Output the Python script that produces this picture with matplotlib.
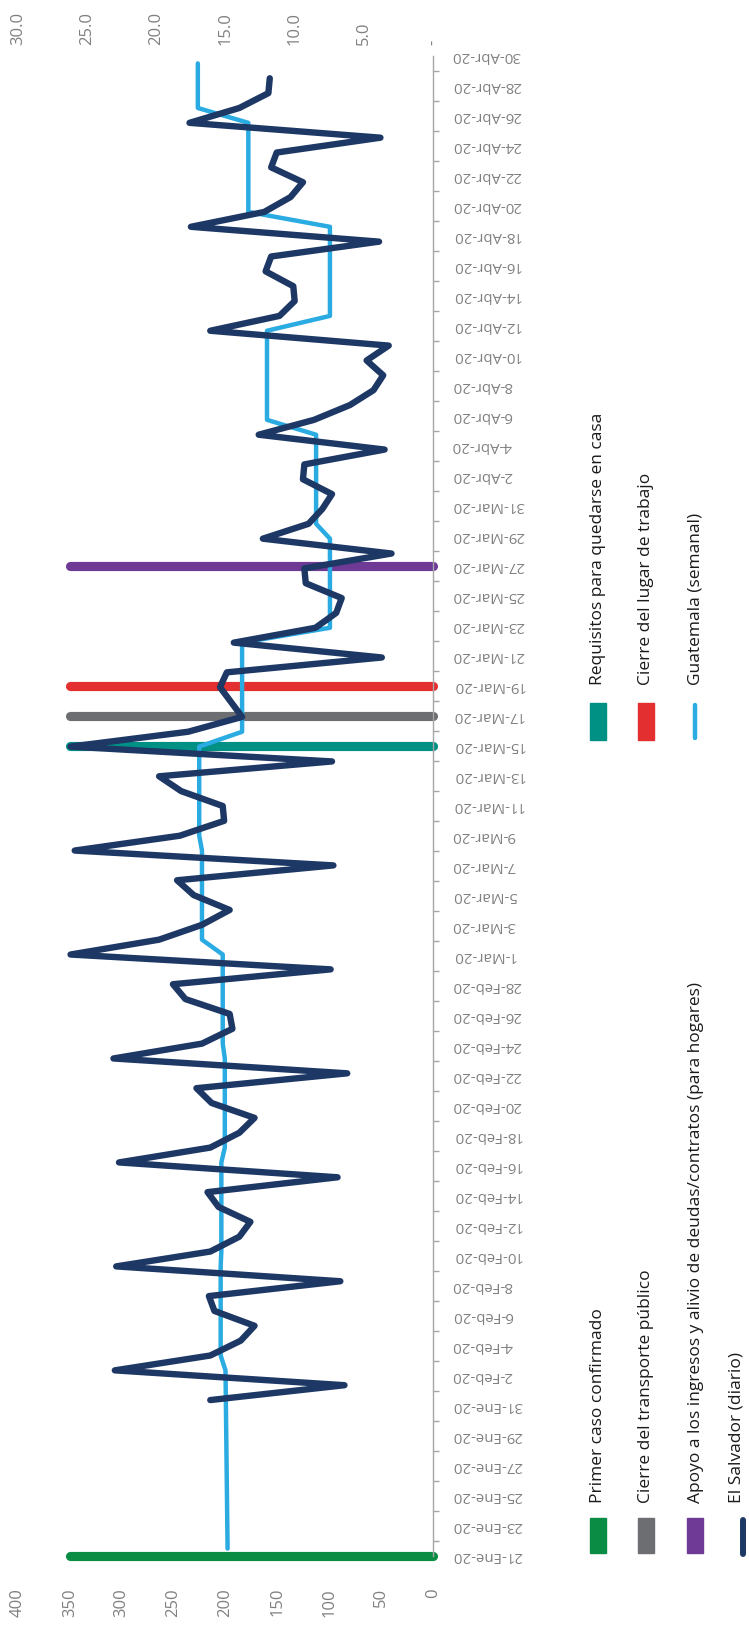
import matplotlib
matplotlib.use("Agg")
import matplotlib.pyplot as plt
import pandas as pd
from matplotlib.lines import Line2D
from matplotlib.patches import Rectangle

plt.rcParams['font.family'] = ['Open Sans', 'DejaVu Sans']

# ---------------- data ----------------
meses = {1: 'Ene', 2: 'Feb', 3: 'Mar', 4: 'Abr'}
fechas = pd.date_range('2020-01-21', '2020-04-30', freq='D')
etiquetas = [f"{f.day}-{meses[f.month]}-20" for f in fechas]

# El Salvador (diario), 31-Ene-20 .. 30-Abr-20
el_salvador_inicio = '2020-01-31'
el_salvador = [16.1, 6.4, 23.0, 16.1, 13.9, 12.9, 15.8, 16.2, 6.7, 22.9,
               16.1, 14.0, 13.2, 15.5, 16.3, 6.9, 22.7, 16.1, 14.0, 12.9,
               16.0, 17.1, 6.2, 23.1, 16.7, 14.5, 14.7, 17.9, 18.8, 7.4,
               26.2, 19.8, 16.7, 14.7, 17.3, 18.5, 7.2, 25.9, 18.3, 15.1,
               15.2, 18.2, 19.8, 7.3, 26.2, 17.7, 13.8, 14.6, 15.4, 14.9,
               3.7, 14.4, 8.5, 7.0, 6.6, 9.2, 9.3, 3.0, 12.3, 9.0,
               8.0, 7.3, 9.4, 9.3, 3.5, 12.6, 8.6, 6.0, 4.3, 3.6,
               4.8, 3.2, 16.1, 11.1, 10.0, 10.1, 12.1, 11.7, 3.9, 17.5,
               12.2, 10.3, 9.4, 11.7, 11.3, 3.8, 17.6, 14.0, 11.9, 11.8]

# Guatemala (semanal): value on 21-Ene-20, then from 2-Feb-20 .. 30-Abr-20
guatemala_primero = 14.85
guatemala_inicio = '2020-02-02'
guatemala = [15.0,
             15.35, 15.35, 15.35, 15.35, 15.35, 15.35, 15.35,
             15.3, 15.3, 15.3, 15.3, 15.3, 15.3, 15.3,
             15.05, 15.05, 15.05, 15.05, 15.05, 15.05, 15.05,
             15.2, 15.2, 15.2, 15.2, 15.2, 15.2, 15.2,
             16.7, 16.7, 16.7, 16.7, 16.7, 16.7, 16.7,
             16.9, 16.9, 16.9, 16.9, 16.9, 16.9, 16.9,
             13.8, 13.8, 13.8, 13.8, 13.8, 13.8, 13.8,
             7.45, 7.45, 7.45, 7.45, 7.45, 7.45, 7.45,
             8.45, 8.45, 8.45, 8.45, 8.45, 8.45, 8.45,
             12.0, 12.0, 12.0, 12.0, 12.0, 12.0, 12.0,
             7.45, 7.45, 7.45, 7.45, 7.45, 7.45, 7.45,
             13.35, 13.35, 13.35, 13.35, 13.35, 13.35, 13.35,
             17.0, 17.0, 17.0, 17.0]

eventos = ['Primer caso confirmado', 'Requisitos para quedarse en casa',
           'Cierre del transporte público', 'Cierre del lugar de trabajo',
           'Apoyo a los ingresos y alivio de deudas/contratos (para hogares)']
eventos_fechas = ['2020-01-21', '2020-03-15', '2020-03-17', '2020-03-19', '2020-03-27']
eventos_valor = [350, 350, 350, 350, 350]
eventos_colores = ['#0B8C45', '#009084', '#6D6E71', '#E32F2F', '#6E3A95']

eje_primario = [0, 50, 100, 150, 200, 250, 300, 350, 400]
eje_secundario = [0, 5, 10, 15, 20, 25, 30]

C_SV = '#1E3865'
C_GT = '#2AABE2'
GRIS = '#808080'

# ---------------- figure ----------------
W, H = 749, 1629
fig = plt.figure(figsize=(W / 100, H / 100), dpi=100)


def fxp(px):
    return px / W


def fyp(py):
    return (H - py) / H


rect = [18 / W, (H - 1556) / H, 415 / W, 1500 / H]

# primary axes: event bars + date axis + 0-400 axis
ax = fig.add_axes(rect)
ax.set_xlim(400, 0)
ax.set_ylim(0, len(fechas) - 1)
for d, v, c in zip(eventos_fechas, eventos_valor, eventos_colores):
    y = fechas.get_loc(pd.Timestamp(d))
    ax.plot([0, v], [y, y], color=c, lw=6.6, solid_capstyle='round',
            zorder=2, clip_on=False)

for s in ['top', 'left', 'bottom']:
    ax.spines[s].set_visible(False)
ax.spines['right'].set_color('#A6A6A6')
ax.spines['right'].set_linewidth(1.0)

ax.yaxis.tick_right()
ax.set_yticks(range(0, len(fechas), 2), etiquetas[::2], rotation=180,
              va='center', ha='left', fontsize=10.8, color=GRIS)
ax.set_yticks(range(1, len(fechas) - 1, 2), minor=True)
ax.tick_params(axis='y', which='major', length=0, pad=13.5)
ax.tick_params(axis='y', which='minor', length=4.5, width=1.0,
               color='#A6A6A6', direction='out')

ax.set_xticks(eje_primario, [str(v) for v in eje_primario], rotation=90,
              fontsize=12, color=GRIS)
ax.tick_params(axis='x', length=0, pad=23)

# secondary axes: the two series + 0-30 axis
ax2 = fig.add_axes(rect)
ax2.patch.set_visible(False)
ax2.set_xlim(30, 0)
ax2.set_ylim(-0.5, len(fechas) - 0.5)
for s in ax2.spines.values():
    s.set_visible(False)
ax2.set_yticks([])

g0 = fechas.get_loc(pd.Timestamp(guatemala_inicio))
gt_y = [0] + list(range(g0, g0 + len(guatemala)))
gt_v = [guatemala_primero] + guatemala
ax2.plot(gt_v, gt_y, color=C_GT, lw=3.2, solid_capstyle='round',
         solid_joinstyle='round', zorder=3, clip_on=False)

i0 = fechas.get_loc(pd.Timestamp(el_salvador_inicio))
sv_y = list(range(i0, i0 + len(el_salvador)))
ax2.plot(el_salvador, sv_y, color=C_SV, lw=4.6, solid_capstyle='round',
         solid_joinstyle='round', zorder=4, clip_on=False)

ax2.xaxis.tick_top()
ax2.set_xticks(eje_secundario,
               ['-' if v == 0 else f"{v:.1f}" for v in eje_secundario],
               rotation=90, fontsize=12, color=GRIS)
ax2.tick_params(axis='x', length=0, pad=8)

# ---------------- legend ----------------
TXT = '#1A1A1A'
FS = 12.5
# column 1 (bottom)
fig.add_artist(Rectangle((fxp(590), fyp(1553)), 16 / W, 35 / H,
                         transform=fig.transFigure, color=eventos_colores[0]))
fig.text(fxp(598.5), fyp(1503), eventos[0], rotation=90, ha='center',
         va='bottom', fontsize=FS, color=TXT)
fig.add_artist(Rectangle((fxp(638), fyp(1553)), 16 / W, 35 / H,
                         transform=fig.transFigure, color=eventos_colores[2]))
fig.text(fxp(646.5), fyp(1503), eventos[2], rotation=90, ha='center',
         va='bottom', fontsize=FS, color=TXT)
fig.add_artist(Rectangle((fxp(687), fyp(1553)), 16 / W, 35 / H,
                         transform=fig.transFigure, color=eventos_colores[4]))
fig.text(fxp(695.5), fyp(1503), eventos[4], rotation=90, ha='center',
         va='bottom', fontsize=FS, color=TXT)
fig.add_artist(Line2D([fxp(743), fxp(743)], [fyp(1554), fyp(1520)],
                      transform=fig.transFigure, color=C_SV, lw=4.3,
                      solid_capstyle='round'))
fig.text(fxp(736.5), fyp(1503), 'El Salvador (diario)', rotation=90,
         ha='center', va='bottom', fontsize=FS, color=TXT)
# column 2 (top)
fig.add_artist(Rectangle((fxp(590), fyp(740)), 16 / W, 37 / H,
                         transform=fig.transFigure, color=eventos_colores[1]))
fig.text(fxp(598.5), fyp(685), eventos[1], rotation=90, ha='center',
         va='bottom', fontsize=FS, color=TXT)
fig.add_artist(Rectangle((fxp(638), fyp(740)), 16 / W, 37 / H,
                         transform=fig.transFigure, color=eventos_colores[3]))
fig.text(fxp(646.5), fyp(685), eventos[3], rotation=90, ha='center',
         va='bottom', fontsize=FS, color=TXT)
fig.add_artist(Line2D([fxp(694.5), fxp(694.5)], [fyp(738), fyp(705)],
                      transform=fig.transFigure, color=C_GT, lw=3.2,
                      solid_capstyle='round'))
fig.text(fxp(696), fyp(685), 'Guatemala (semanal)', rotation=90,
         ha='center', va='bottom', fontsize=FS, color=TXT)

fig.savefig('out.png', dpi=100)
